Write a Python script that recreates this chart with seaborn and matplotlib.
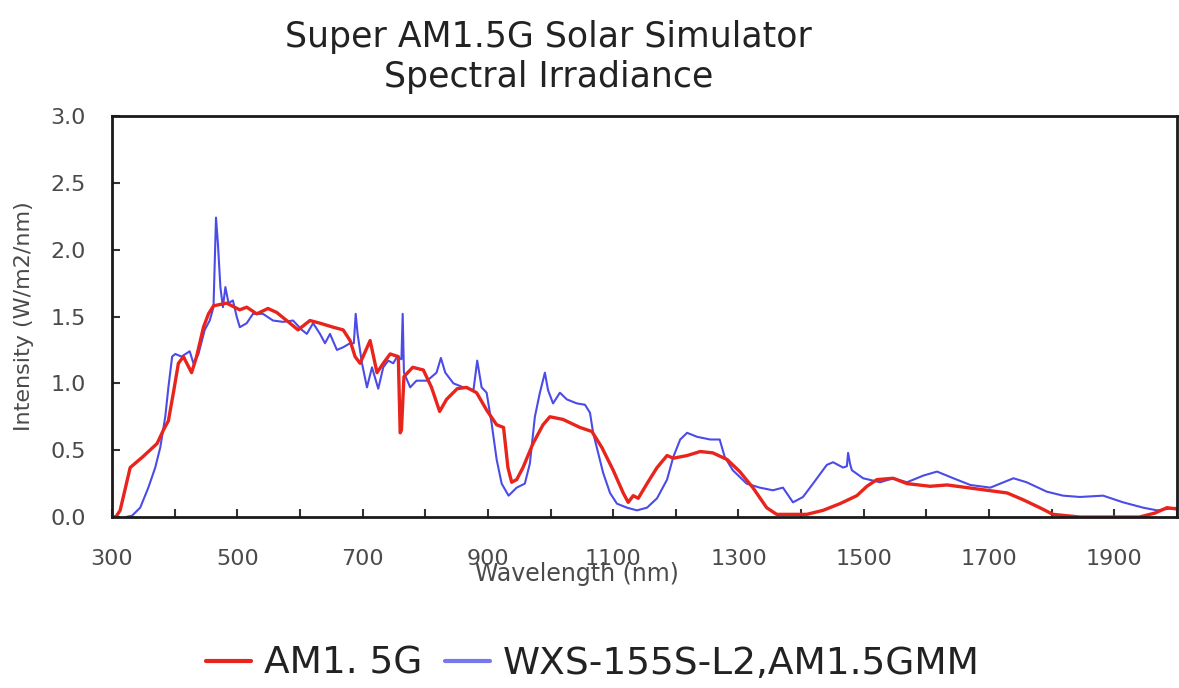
import matplotlib
matplotlib.use("Agg")
import matplotlib.pyplot as plt
from matplotlib.lines import Line2D
import seaborn as sns
import pandas as pd

# Reference AM1.5G spectrum (wavelength in nm, intensity in W/m2/nm)
am15g_wl = [303, 306, 313, 329, 349, 372, 382, 390, 398, 406, 414, 427, 435, 446,
            454, 462, 483, 504, 515, 531, 549, 563, 584, 597, 616, 632, 653, 669,
            680, 688, 696, 712, 723, 733, 744, 757, 760, 762, 766, 780, 797, 810,
            823, 834, 851, 866, 882, 898, 914, 925, 932, 938, 946, 956, 972, 988,
            999, 1020, 1047, 1066, 1082, 1100, 1116, 1124, 1132, 1140, 1154, 1170,
            1186, 1196, 1218, 1239, 1259, 1282, 1302, 1323, 1345, 1361, 1409, 1435,
            1462, 1489, 1505, 1521, 1547, 1569, 1606, 1633, 1665, 1697, 1729, 1754,
            1781, 1802, 1845, 1940, 1965, 1984, 2000]
am15g_val = [0.0, 0.0, 0.05, 0.37, 0.45, 0.55, 0.65, 0.72, 0.93, 1.15, 1.20, 1.08,
             1.20, 1.42, 1.52, 1.58, 1.60, 1.55, 1.57, 1.52, 1.56, 1.53, 1.45, 1.40,
             1.47, 1.45, 1.42, 1.40, 1.32, 1.20, 1.15, 1.32, 1.08, 1.15, 1.22, 1.20,
             0.63, 0.65, 1.05, 1.12, 1.10, 0.97, 0.79, 0.88, 0.96, 0.97, 0.93, 0.80,
             0.69, 0.67, 0.37, 0.26, 0.28, 0.37, 0.55, 0.69, 0.75, 0.73, 0.67, 0.64,
             0.52, 0.35, 0.18, 0.11, 0.16, 0.14, 0.25, 0.37, 0.46, 0.44, 0.46, 0.49,
             0.48, 0.43, 0.34, 0.22, 0.07, 0.02, 0.02, 0.05, 0.10, 0.16, 0.23, 0.28,
             0.29, 0.25, 0.23, 0.24, 0.22, 0.20, 0.18, 0.13, 0.07, 0.02, 0.0, 0.0,
             0.03, 0.07, 0.06]

# Simulator output (WXS-155S-L2)
wxs_wl = [322, 332, 345, 358, 369, 377, 385, 390, 396, 401, 411, 424, 430, 438,
          448, 456, 462, 466, 469, 473, 477, 481, 486, 493, 499, 504, 515, 525,
          541, 557, 573, 589, 603, 611, 621, 632, 640, 648, 659, 669, 680, 686,
          689, 692, 699, 707, 715, 725, 733, 741, 749, 755, 762, 764, 766, 776,
          786, 803, 818, 825, 832, 845, 861, 877, 883, 890, 898, 906, 914, 922,
          933, 946, 959, 967, 975, 983, 991, 996, 1004, 1015, 1026, 1042, 1055,
          1063, 1068, 1076, 1084, 1095, 1106, 1122, 1138, 1154, 1170, 1186, 1196,
          1207, 1218, 1234, 1255, 1270, 1278, 1291, 1313, 1334, 1355, 1371, 1387,
          1403, 1419, 1441, 1451, 1467, 1473, 1475, 1478, 1481, 1499, 1526, 1547,
          1569, 1595, 1617, 1643, 1670, 1702, 1739, 1760, 1792, 1818, 1845, 1882,
          1914, 1946, 1968, 2000]
wxs_val = [0.0, 0.01, 0.07, 0.22, 0.37, 0.52, 0.75, 0.97, 1.20, 1.22, 1.20, 1.24,
           1.15, 1.22, 1.40, 1.47, 1.57, 2.24, 2.05, 1.72, 1.57, 1.72, 1.60, 1.62,
           1.50, 1.42, 1.45, 1.52, 1.52, 1.47, 1.46, 1.47, 1.40, 1.37, 1.45, 1.37,
           1.30, 1.37, 1.25, 1.27, 1.30, 1.30, 1.52, 1.37, 1.15, 0.97, 1.12, 0.96,
           1.12, 1.17, 1.15, 1.20, 1.18, 1.52, 1.08, 0.97, 1.02, 1.02, 1.08, 1.19,
           1.08, 1.00, 0.97, 0.95, 1.17, 0.97, 0.93, 0.70, 0.43, 0.25, 0.16, 0.22,
           0.25, 0.40, 0.75, 0.93, 1.08, 0.95, 0.85, 0.93, 0.88, 0.85, 0.84, 0.78,
           0.63, 0.48, 0.33, 0.18, 0.10, 0.07, 0.05, 0.07, 0.14, 0.28, 0.45, 0.58,
           0.63, 0.60, 0.58, 0.58, 0.45, 0.35, 0.25, 0.22, 0.20, 0.22, 0.11, 0.15,
           0.25, 0.39, 0.41, 0.37, 0.38, 0.48, 0.40, 0.35, 0.29, 0.26, 0.29, 0.26,
           0.31, 0.34, 0.29, 0.24, 0.22, 0.29, 0.26, 0.19, 0.16, 0.15, 0.16, 0.11,
           0.07, 0.05, 0.07]

x_ticks = list(range(300, 2001, 100))
x_labels = [str(t) if (t - 300) % 200 == 0 and t < 2000 else "" for t in x_ticks]
y_ticks = [0.0, 0.5, 1.0, 1.5, 2.0, 2.5, 3.0]

series_names = ["AM1. 5G", "WXS-155S-L2,AM1.5GMM"]
red = "#e8241c"
blue = "#4b4be8"

sns.set_theme(style="white")
plt.rcParams["font.family"] = ["DejaVu Sans"]

fig = plt.figure(figsize=(11.79, 6.88), dpi=100)
ax = fig.add_axes([0.095, 0.2485, 0.9033, 0.5829])

df_wxs = pd.DataFrame({"wl": wxs_wl, "val": wxs_val})
df_am = pd.DataFrame({"wl": am15g_wl, "val": am15g_val})
sns.lineplot(data=df_wxs, x="wl", y="val", ax=ax, color=blue, linewidth=1.5,
             estimator=None, sort=False)
sns.lineplot(data=df_am, x="wl", y="val", ax=ax, color=red, linewidth=2.4,
             estimator=None, sort=False)

ax.set_xlim(300, 2000)
ax.set_ylim(0, 3.0)
ax.set_xticks(x_ticks)
ax.set_xticklabels(x_labels)
ax.set_yticks(y_ticks)
ax.set_yticklabels([f"{v:.1f}" for v in y_ticks])

for s in ax.spines.values():
    s.set_visible(True)
    s.set_color("#1a1a1a")
    s.set_linewidth(2.0)

ax.tick_params(axis="x", direction="in", length=6, width=1.5, color="#333333",
               labelsize=16, labelcolor="#4a4a4a", pad=23, bottom=True)
ax.tick_params(axis="y", direction="in", length=6, width=1.5, color="#333333",
               labelsize=16, labelcolor="#4a4a4a", pad=19, left=True)

ax.set_xlabel("Wavelength (nm)", fontsize=17, color="#4a4a4a")
ax.xaxis.set_label_coords(0.437, -0.113)
ax.set_ylabel("Intensity (W/m2/nm)", fontsize=16, color="#4a4a4a")
ax.yaxis.set_label_coords(-0.073, 0.5)

fig.text(0.465, 0.917, "Super AM1.5G Solar Simulator\nSpectral Irradiance",
         ha="center", va="center", fontsize=25, color="#222222", linespacing=1.2)

handles = [Line2D([0], [0], color=red, linewidth=3),
           Line2D([0], [0], color=blue, linewidth=3, alpha=0.75)]
fig.legend(handles, series_names, loc="center", bbox_to_anchor=(0.503, 0.035),
           ncol=2, frameon=False, fontsize=27, handlelength=1.2,
           handletextpad=0.35, columnspacing=0.6, labelcolor="#222222")

fig.savefig("out.png", dpi=100, facecolor="white")
